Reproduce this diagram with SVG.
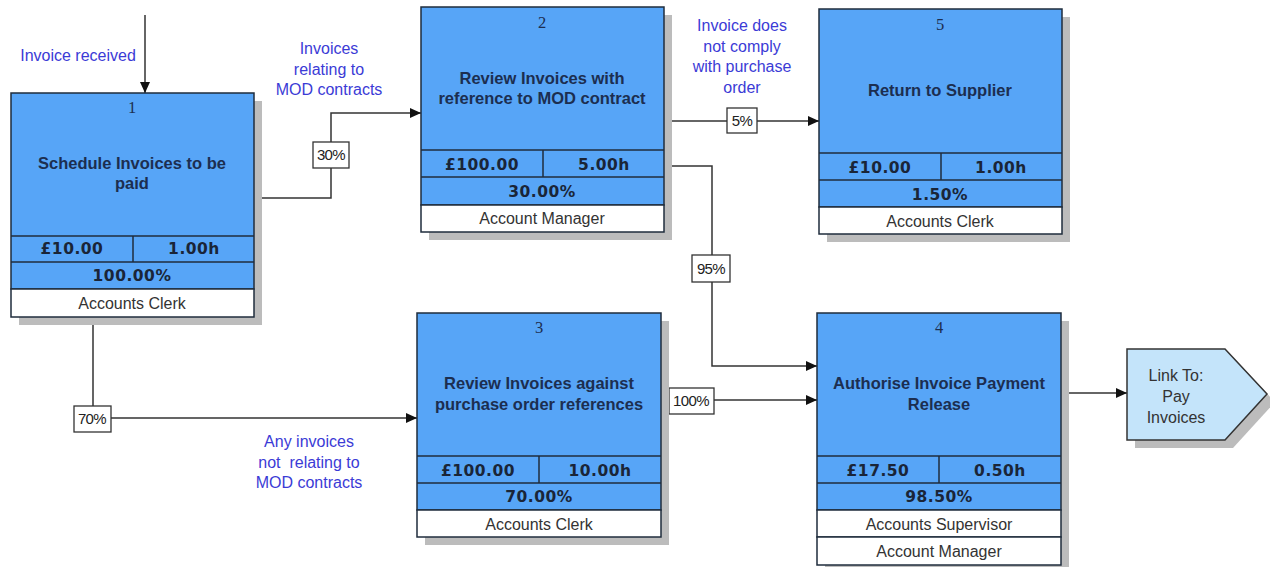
<svg xmlns="http://www.w3.org/2000/svg" width="1270" height="567" viewBox="0 0 1270 567">
<style>
.shadow{fill:#bcbcbc}
.box{fill:#57a5f7;stroke:#1f2d3d;stroke-width:1.5}
.role{fill:#ffffff;stroke:#1f2d3d;stroke-width:1.5}
.div{stroke:#1f2d3d;stroke-width:1.5}
.num{font-family:"Liberation Serif",serif;font-size:16.5px;fill:#1c2e50;text-anchor:middle}
.title{font-family:"Liberation Sans",Arial,sans-serif;font-weight:bold;font-size:16.5px;fill:#1c2e50;text-anchor:middle}
.stat{font-family:"DejaVu Sans",sans-serif;font-weight:bold;font-size:15.5px;fill:#1a2538;text-anchor:middle;letter-spacing:0.5px}
.rtext{font-family:"Liberation Sans",Arial,sans-serif;font-size:16px;fill:#333333;text-anchor:middle}
.lbl{font-family:"Liberation Sans",Arial,sans-serif;font-size:16px;fill:#3b3bd6;text-anchor:middle}
.pbox{fill:#ffffff;stroke:#333333;stroke-width:1.3}
.ptext{font-family:"Liberation Sans",Arial,sans-serif;font-size:15px;fill:#222222;text-anchor:middle;letter-spacing:-0.6px}
.conn{fill:none;stroke:#333333;stroke-width:1.5}
.link{fill:#c4e4fa;stroke:#333333;stroke-width:1.5}
</style>
<defs>
<marker id="arr" markerWidth="12" markerHeight="10" refX="11" refY="5" orient="auto" markerUnits="userSpaceOnUse">
<path d="M0,0 L11,5 L0,10 Z" fill="#111111"/>
</marker>
</defs>

<g id="connectors">
<path class="conn" d="M145,15 V93" marker-end="url(#arr)"/>
<path class="conn" d="M254,198 H331 V113 H421" marker-end="url(#arr)"/>
<path class="conn" d="M664,121 H819" marker-end="url(#arr)"/>
<path class="conn" d="M664,166 H712 V366 H817" marker-end="url(#arr)"/>
<path class="conn" d="M661,400 H817" marker-end="url(#arr)"/>
<path class="conn" d="M93,317 V418 H417" marker-end="url(#arr)"/>
<path class="conn" d="M1061,393 H1127" marker-end="url(#arr)"/>
<rect class="pbox" x="313" y="142" width="36" height="26"/>
<text class="ptext" x="331" y="160">30%</text>
<rect class="pbox" x="727" y="108" width="30" height="25"/>
<text class="ptext" x="742" y="126">5%</text>
<rect class="pbox" x="692" y="255" width="38" height="27"/>
<text class="ptext" x="711" y="274">95%</text>
<rect class="pbox" x="669" y="388" width="45" height="26"/>
<text class="ptext" x="691" y="406">100%</text>
<rect class="pbox" x="74" y="406" width="37" height="26"/>
<text class="ptext" x="92" y="424">70%</text>
</g>

<g id="labels">
<text class="lbl" x="78" y="61">Invoice received</text>
<text class="lbl" x="329" y="54">Invoices</text>
<text class="lbl" x="329" y="75">relating to</text>
<text class="lbl" x="329" y="95">MOD contracts</text>
<text class="lbl" x="742" y="31">Invoice does</text>
<text class="lbl" x="742" y="52">not comply</text>
<text class="lbl" x="742" y="72">with purchase</text>
<text class="lbl" x="742" y="93">order</text>
<text class="lbl" x="309" y="447">Any invoices</text>
<text class="lbl" x="309" y="468" xml:space="preserve">not  relating to</text>
<text class="lbl" x="309" y="488">MOD contracts</text>
</g>

<g id="node1">
<rect class="shadow" x="19" y="101" width="243" height="224"/>
<rect class="box" x="11" y="93" width="243" height="196"/>
<rect class="role" x="11" y="289" width="243" height="28"/>
<line class="div" x1="11" y1="236" x2="254" y2="236"/>
<line class="div" x1="11" y1="262" x2="254" y2="262"/>
<line class="div" x1="133" y1="236" x2="133" y2="262"/>
<text class="num" x="132" y="113">1</text>
<text class="title" x="132" y="169">Schedule Invoices to be</text>
<text class="title" x="132" y="189">paid</text>
<text class="stat" x="72" y="254">£10.00</text>
<text class="stat" x="194" y="254">1.00h</text>
<text class="stat" x="132" y="281">100.00%</text>
<text class="rtext" x="132" y="309">Accounts Clerk</text>
</g>

<g id="node2">
<rect class="shadow" x="429" y="15" width="243" height="225"/>
<rect class="box" x="421" y="7" width="243" height="198"/>
<rect class="role" x="421" y="205" width="243" height="27"/>
<line class="div" x1="421" y1="150" x2="664" y2="150"/>
<line class="div" x1="421" y1="177" x2="664" y2="177"/>
<line class="div" x1="543" y1="150" x2="543" y2="177"/>
<text class="num" x="542" y="28">2</text>
<text class="title" x="542" y="84">Review Invoices with</text>
<text class="title" x="542" y="104">reference to MOD contract</text>
<text class="stat" x="482" y="170">£100.00</text>
<text class="stat" x="604" y="170">5.00h</text>
<text class="stat" x="542" y="197">30.00%</text>
<text class="rtext" x="542" y="224">Account Manager</text>
</g>

<g id="node5">
<rect class="shadow" x="827" y="17" width="243" height="225"/>
<rect class="box" x="819" y="9" width="243" height="198"/>
<rect class="role" x="819" y="207" width="243" height="27"/>
<line class="div" x1="819" y1="153" x2="1062" y2="153"/>
<line class="div" x1="819" y1="180" x2="1062" y2="180"/>
<line class="div" x1="941" y1="153" x2="941" y2="180"/>
<text class="num" x="940" y="30">5</text>
<text class="title" x="940" y="96">Return to Supplier</text>
<text class="stat" x="880" y="173">£10.00</text>
<text class="stat" x="1001" y="173">1.00h</text>
<text class="stat" x="940" y="200">1.50%</text>
<text class="rtext" x="940" y="227">Accounts Clerk</text>
</g>

<g id="node3">
<rect class="shadow" x="425" y="321" width="244" height="224"/>
<rect class="box" x="417" y="313" width="244" height="197"/>
<rect class="role" x="417" y="510" width="244" height="27"/>
<line class="div" x1="417" y1="456" x2="661" y2="456"/>
<line class="div" x1="417" y1="483" x2="661" y2="483"/>
<line class="div" x1="539" y1="456" x2="539" y2="483"/>
<text class="num" x="539" y="333">3</text>
<text class="title" x="539" y="389">Review Invoices against</text>
<text class="title" x="539" y="410">purchase order references</text>
<text class="stat" x="478" y="476">£100.00</text>
<text class="stat" x="600" y="476">10.00h</text>
<text class="stat" x="539" y="502">70.00%</text>
<text class="rtext" x="539" y="530">Accounts Clerk</text>
</g>

<g id="node4">
<rect class="shadow" x="825" y="321" width="244" height="253"/>
<rect class="box" x="817" y="313" width="244" height="197"/>
<rect class="role" x="817" y="510" width="244" height="27"/>
<rect class="role" x="817" y="537" width="244" height="28"/>
<line class="div" x1="817" y1="456" x2="1061" y2="456"/>
<line class="div" x1="817" y1="483" x2="1061" y2="483"/>
<line class="div" x1="939" y1="456" x2="939" y2="483"/>
<text class="num" x="939" y="333">4</text>
<text class="title" x="939" y="389">Authorise Invoice Payment</text>
<text class="title" x="939" y="410">Release</text>
<text class="stat" x="878" y="476">£17.50</text>
<text class="stat" x="1000" y="476">0.50h</text>
<text class="stat" x="939" y="502">98.50%</text>
<text class="rtext" x="939" y="530">Accounts Supervisor</text>
<text class="rtext" x="939" y="557">Account Manager</text>
</g>

<g id="link">
<polygon class="shadow" points="1135,357 1233,357 1275,402 1233,448 1135,448"/>
<polygon class="link" points="1127,349 1225,349 1267,394 1225,440 1127,440"/>
<text class="rtext" x="1176" y="381">Link To:</text>
<text class="rtext" x="1176" y="402">Pay</text>
<text class="rtext" x="1176" y="423">Invoices</text>
</g>
</svg>
